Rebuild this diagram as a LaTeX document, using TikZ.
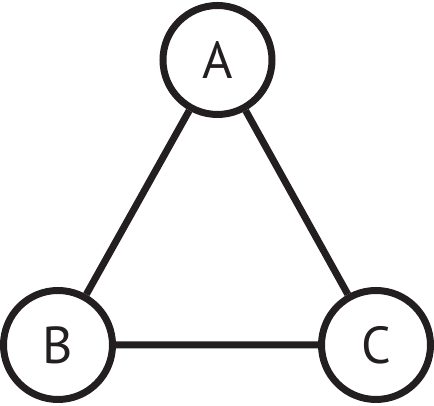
\documentclass[tikz,border=0pt]{standalone}
\usepackage{fontspec}
\setmainfont{PT Sans}
\definecolor{ink}{HTML}{231F20}
\tikzset{
  vertex/.style={circle, draw=ink, text=ink, line width=7pt, minimum size=109pt, inner sep=0pt, font=\fontsize{52}{52}\selectfont},
  edge/.style={draw=ink, line width=7pt}
}
\begin{document}
\begin{tikzpicture}[x=1pt,y=1pt]

\useasboundingbox (0,0) rectangle (434,406);

\node[vertex](A) at (217.5, 346) {A};
\node[vertex](B) at (58, 61) {B};
\node[vertex](C) at (376, 61) {C};

\draw[edge] (A)
  to (B)
  to (C)
  to (A);

\end{tikzpicture}
\end{document}
